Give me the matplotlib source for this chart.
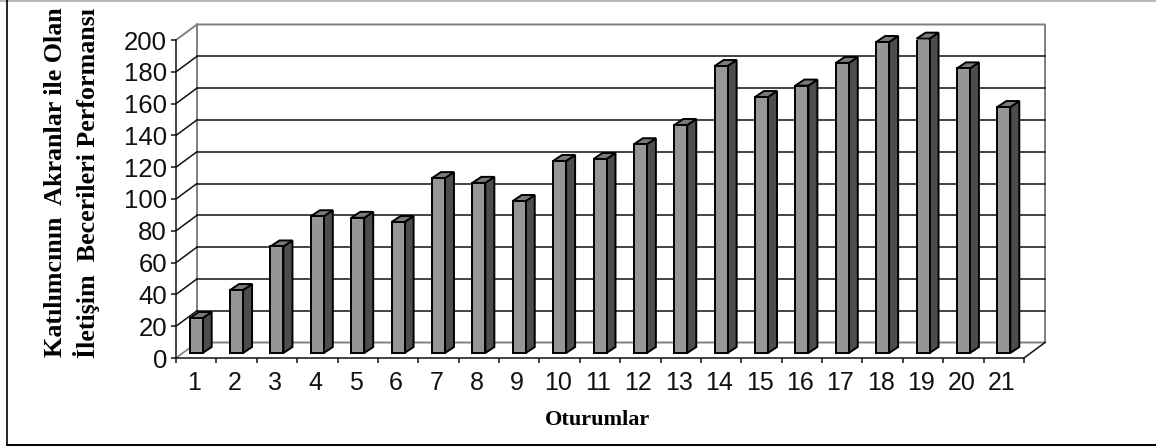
import matplotlib
matplotlib.use('Agg')
import matplotlib.pyplot as plt
from matplotlib.lines import Line2D
from matplotlib.patches import Polygon

sessions = list(range(1, 22))
performance = [22, 39.6, 67, 86, 85, 82.4, 110, 107, 95.6, 120.8, 122,
               131.3, 143.4, 180.5, 161, 168.2, 182.4, 195.6, 197.7, 179, 154.7]
y_ticks = list(range(0, 201, 20))

W, H = 1156, 447
# front plane of the fake 3d box, in pixels
LEFT, RIGHT, BOTTOM, TOP = 176, 1024, 358, 40

fig = plt.figure(figsize=(W / 100, H / 100), dpi=100)
ax = fig.add_axes([LEFT / W, 1 - BOTTOM / H, (RIGHT - LEFT) / W, (BOTTOM - TOP) / H])
ax.set_xlim(0.5, 21.5)
ax.set_ylim(0, 200)

# pixel -> data unit
px_x = 21 / (RIGHT - LEFT)
px_y = 200 / (BOTTOM - TOP)

wall_dx, wall_dy = 21 * px_x, 15.5 * px_y
bar_dx, bar_dy = 9 * px_x, 6 * px_y
bar_w = 13 * px_x
lift = 5 * px_y

GRAY = '#808080'
BLACK = '#111111'
x0, x1 = 0.5, 21.5

# walls and floor
ax.plot([x0, x0 + wall_dx, x1 + wall_dx, x1 + wall_dx, x0 + wall_dx, x0 + wall_dx],
        [200, 200 + wall_dy, 200 + wall_dy, wall_dy, wall_dy, 200 + wall_dy],
        color=GRAY, lw=1.4, clip_on=False, zorder=1)
ax.plot([x0, x0 + wall_dx], [0, wall_dy], color=GRAY, lw=1.2, clip_on=False, zorder=1)
ax.plot([x1, x1 + wall_dx], [0, wall_dy], color=BLACK, lw=1.1, clip_on=False, zorder=2)

for t in y_ticks[1:-1]:
    ax.plot([x0 + wall_dx, x1 + wall_dx], [t + wall_dy, t + wall_dy],
            color=BLACK, lw=1.1, clip_on=False, zorder=2)
    ax.plot([x0, x0 + wall_dx], [t, t + wall_dy], color=BLACK, lw=1.1, clip_on=False, zorder=2)

# bars: front face from bar(), side and top added by hand
ax.bar(sessions, performance, width=bar_w, bottom=lift, color='#969696',
       edgecolor='black', linewidth=1.4, zorder=4)
for s, v in zip(sessions, performance):
    xl, xr = s - bar_w / 2, s + bar_w / 2
    yb, yt = lift, lift + v
    ax.add_patch(Polygon([(xr, yb), (xr + bar_dx, yb + bar_dy), (xr + bar_dx, yt + bar_dy), (xr, yt)],
                         facecolor='#4d4d4d', edgecolor='black', lw=1.4, zorder=3, clip_on=False))
    ax.add_patch(Polygon([(xl, yt), (xl + bar_dx, yt + bar_dy), (xr + bar_dx, yt + bar_dy), (xr, yt)],
                         facecolor='#7a7a7a', edgecolor='black', lw=1.4, zorder=3, clip_on=False))

ax.patch.set_visible(False)
for side in ['top', 'right']:
    ax.spines[side].set_visible(False)
for side in ['left', 'bottom']:
    ax.spines[side].set_color(BLACK)
    ax.spines[side].set_linewidth(1.1)

ax.set_yticks(y_ticks)
ax.set_xticks([s - 0.5 for s in sessions] + [21.5])
ax.set_xticklabels([])
ax.tick_params(axis='both', length=3.5, width=1.1, color=BLACK)
ax.tick_params(axis='y', pad=3)
ax.set_yticklabels(y_ticks, family='Liberation Sans', fontsize=18.5, color='#111111')

for s in sessions:
    ax.annotate(str(s), (s, 0), xytext=(-2, -25), textcoords='offset pixels',
                ha='center', va='center', family='Liberation Sans', fontsize=18, color='#111111')

fig.text(598 / W, 1 - 420 / H, 'Oturumlar', ha='center', va='center',
         family='Liberation Serif', weight='bold', fontsize=16)
fig.text(56 / W, 1 - 182.5 / H, 'Katılımcının  Akranlar ile Olan', rotation=90, ha='center', va='center',
         family='Liberation Serif', weight='bold', fontsize=18.7)
fig.text(87 / W, 1 - 182.5 / H, 'İletişim  Becerileri Performansı', rotation=90, ha='center', va='center',
         family='Liberation Serif', weight='bold', fontsize=18.7)

# outer frame
fig.add_artist(Line2D([0, 1], [1 - 0.5 / H] * 2, color='#aaaaaa', lw=1.2))
fig.add_artist(Line2D([6.5 / W] * 2, [1 - 445 / H, 1], color='black', lw=1.2))
fig.add_artist(Line2D([6.5 / W, 1], [1 - 445 / H] * 2, color='black', lw=1.4))

fig.savefig('out.png', dpi=100)
